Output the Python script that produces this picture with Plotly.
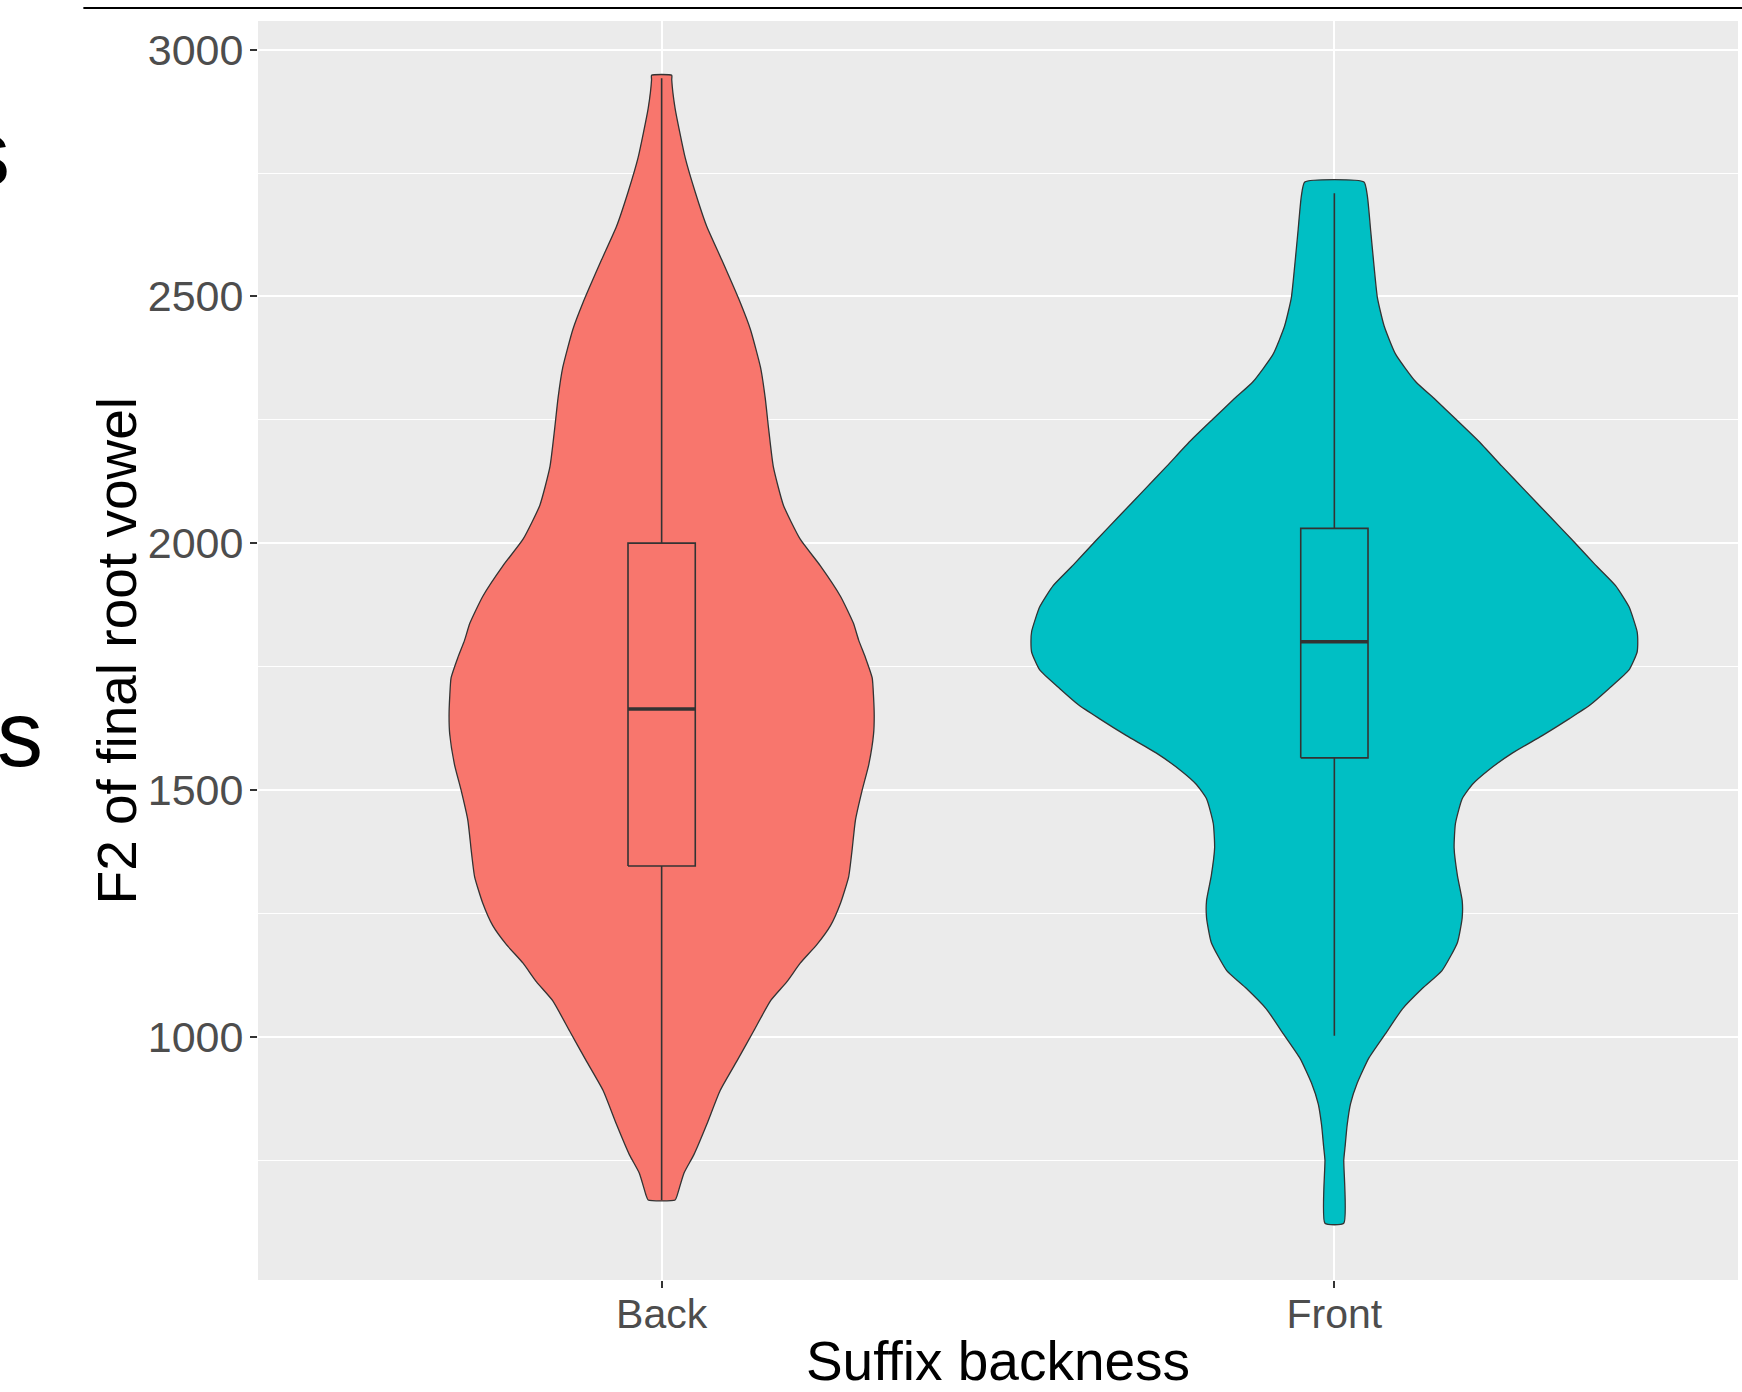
import plotly.graph_objects as go

# ---------------- data ----------------
categories = ["Back", "Front"]
cat_pos = [1, 2]
fill_colors = ["#F8766D", "#00BFC4"]

# violin outline: F2 level and half-width of the density (x-axis units)
f2_back = [2948, 2939, 2881, 2781, 2711, 2642, 2572, 2487, 2433, 2356, 2294, 2232, 2155, 2077,
           2008, 1954, 1892, 1838, 1803, 1768, 1727, 1689, 1650, 1613, 1552, 1499, 1438, 1377,
           1324, 1271, 1225, 1187, 1149, 1111, 1073, 1012, 951, 891, 822, 761, 723, 678, 669]
hw_back = [0.015, 0.015, 0.020, 0.035, 0.050, 0.067, 0.090, 0.117, 0.132, 0.147, 0.154, 0.159,
           0.166, 0.181, 0.206, 0.236, 0.266, 0.285, 0.293, 0.303, 0.313, 0.315, 0.316, 0.315,
           0.308, 0.298, 0.288, 0.283, 0.278, 0.266, 0.251, 0.231, 0.206, 0.186, 0.162, 0.137,
           0.112, 0.087, 0.067, 0.048, 0.033, 0.023, 0.020]

f2_front = [2732, 2704, 2633, 2561, 2497, 2440, 2383, 2327, 2291, 2252, 2206, 2156, 2106, 2056,
            2006, 1956, 1914, 1871, 1821, 1800, 1779, 1743, 1705, 1672, 1645, 1610, 1575, 1539,
            1511, 1482, 1432, 1383, 1326, 1276, 1241, 1191, 1134, 1098, 1056, 1006, 956, 906,
            864, 821, 778, 750, 622]
hw_front = [0.044, 0.049, 0.054, 0.059, 0.064, 0.074, 0.091, 0.121, 0.150, 0.180, 0.215, 0.249,
            0.284, 0.319, 0.354, 0.388, 0.418, 0.438, 0.450, 0.451, 0.450, 0.438, 0.408, 0.380,
            0.350, 0.309, 0.265, 0.228, 0.205, 0.190, 0.180, 0.178, 0.183, 0.190, 0.190, 0.183,
            0.160, 0.131, 0.101, 0.076, 0.051, 0.034, 0.024, 0.019, 0.016, 0.014, 0.014]

# box plot statistics
q1_vals = [1346, 1565]
median_vals = [1664, 1800]
q3_vals = [2000, 2030]
lower_whisker = [669, 1002]
upper_whisker = [2942, 2709]

y_ticks = [1000, 1500, 2000, 2500, 3000]

x_title = "Suffix backness"
y_title = "F2 of final root vowel"

# ---------------- figure ----------------
FONT = "Liberation Sans, Arial, sans-serif"
OUTLINE = "#333333"
BOX_W = 0.1

violin_f2 = [f2_back, f2_front]
violin_hw = [hw_back, hw_front]

fig = go.Figure()

# violins
for i, pos in enumerate(cat_pos):
    ys = violin_f2[i]
    hws = violin_hw[i]
    xs_right = [pos + h for h in hws]
    xs_left = [pos - h for h in reversed(hws)]
    x_path = xs_right + xs_left + [xs_right[0]]
    y_path = list(ys) + list(reversed(ys)) + [ys[0]]
    fig.add_trace(go.Scatter(
        x=x_path, y=y_path, mode="lines", fill="toself",
        fillcolor=fill_colors[i],
        line=dict(color=OUTLINE, width=1.3, shape="spline", smoothing=0.5),
        hoverinfo="skip", showlegend=False, name=categories[i]))

# box plots (drawn as lines so they sit above the filled violins)
for i, pos in enumerate(cat_pos):
    left, right = pos - BOX_W / 2, pos + BOX_W / 2
    # whiskers
    fig.add_trace(go.Scatter(
        x=[pos, pos, None, pos, pos],
        y=[q3_vals[i], upper_whisker[i], None, q1_vals[i], lower_whisker[i]],
        mode="lines", line=dict(color=OUTLINE, width=1.6),
        showlegend=False, hoverinfo="skip"))
    # box (Q1-Q3)
    fig.add_trace(go.Scatter(
        x=[left, right, right, left, left],
        y=[q1_vals[i], q1_vals[i], q3_vals[i], q3_vals[i], q1_vals[i]],
        mode="lines", fill="toself", fillcolor=fill_colors[i],
        line=dict(color=OUTLINE, width=1.6),
        showlegend=False, hoverinfo="skip", name=categories[i]))
    # median
    fig.add_trace(go.Scatter(
        x=[left, right], y=[median_vals[i], median_vals[i]],
        mode="lines", line=dict(color=OUTLINE, width=3.5),
        showlegend=False, hoverinfo="skip"))

fig.update_layout(
    width=1742, height=1392,
    margin=dict(l=258, r=4, t=21, b=112),
    paper_bgcolor="white", plot_bgcolor="#EBEBEB",
    font=dict(family=FONT, color="#4D4D4D"),
    showlegend=False,
)

fig.update_xaxes(
    range=[0.4, 2.6], tickvals=cat_pos, ticktext=categories, automargin=False,
    showgrid=True, gridcolor="white", gridwidth=2.2, zeroline=False,
    ticks="outside", ticklen=7, tickwidth=2, tickcolor=OUTLINE, ticklabelstandoff=-9,
    tickfont=dict(size=41, color="#4D4D4D", family=FONT),
    title=dict(text=x_title, font=dict(size=55, color="black", family=FONT), standoff=7),
    showline=False,
)
fig.update_yaxes(
    range=[507, 3058], tickvals=y_ticks, automargin=False,
    showgrid=True, gridcolor="white", gridwidth=2.2, zeroline=False,
    minor=dict(dtick=250, tick0=0, showgrid=True, gridcolor="white", gridwidth=1.1),
    ticks="outside", ticklen=7, tickwidth=2, tickcolor=OUTLINE, ticklabelstandoff=-2,
    tickfont=dict(size=43, color="#4D4D4D", family=FONT),
    showline=False,
)

# y-axis title placed as a rotated label left of the tick labels
fig.add_annotation(text=y_title, xref="paper", yref="paper", x=-0.0953, y=0.5,
                   xanchor="center", yanchor="middle", textangle=-90, showarrow=False,
                   font=dict(size=55, color="black", family=FONT))

# slide decorations around the chart (top rule and clipped text fragments)
fig.add_shape(type="line", xref="paper", yref="paper",
              x0=-0.118, x1=1.01, y0=1.0103, y1=1.0103,
              line=dict(color="black", width=2))
fig.add_annotation(text="s", xref="paper", yref="paper", x=-0.166, y=0.895,
                   xanchor="right", yanchor="middle", showarrow=False,
                   font=dict(size=92, color="black", family=FONT))
fig.add_annotation(text="s", xref="paper", yref="paper", x=-0.144, y=0.434,
                   xanchor="right", yanchor="middle", showarrow=False,
                   font=dict(size=92, color="black", family=FONT))

fig.write_html("out.html", config={"displayModeBar": False},
               post_script="document.body.style.margin='0';")
